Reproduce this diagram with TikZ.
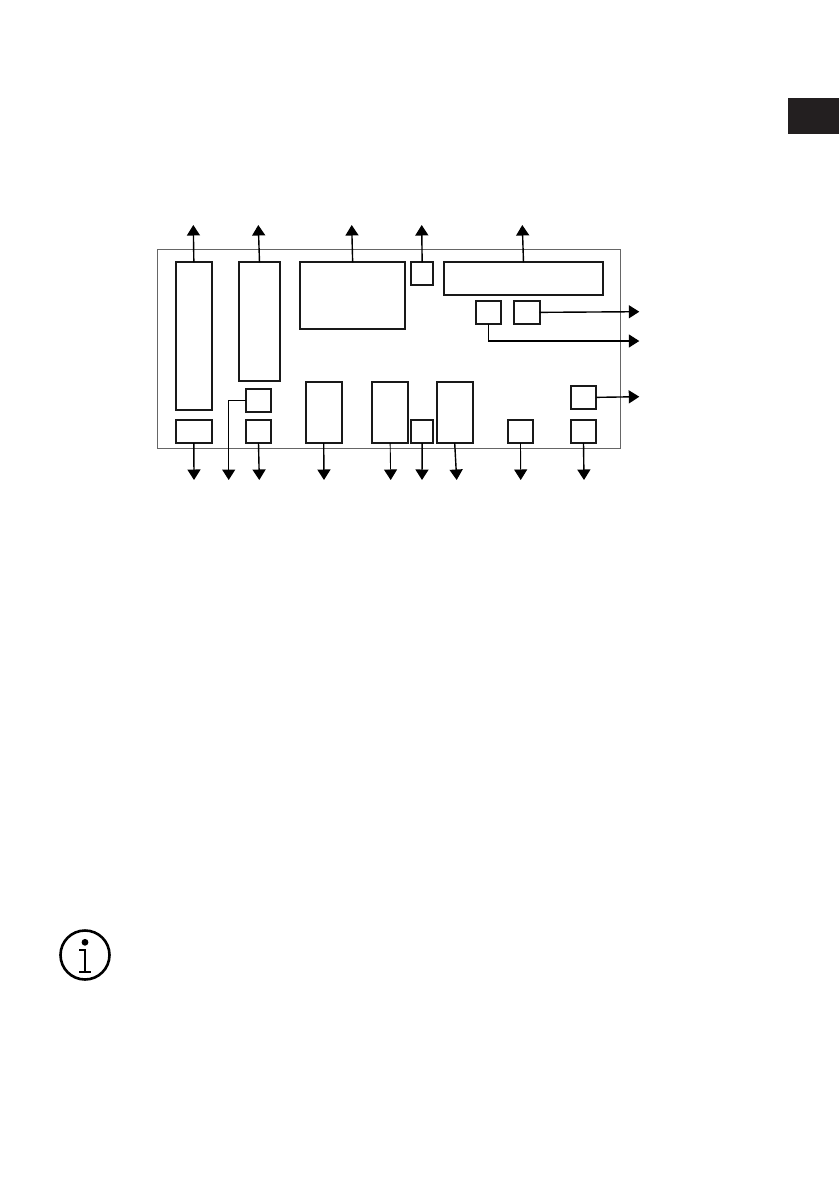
\documentclass[tikz,border=0pt]{standalone}
\usepackage{xcolor}
\usetikzlibrary{arrows.meta}
\usetikzlibrary{positioning}
\definecolor{tabblack}{HTML}{231F20}
\tikzset{
  unit/.style={draw=black!90,line width=1.8pt,inner sep=0pt,outer sep=0pt},
  lead/.style={line width=1.4pt,-{Triangle[width=13pt,length=10.5pt]}},
  thinlead/.style={lead,line width=0.9pt}
}
\begin{document}
\begin{tikzpicture}[x=1pt,y=-1pt]
    \useasboundingbox (0,0) rectangle (839,1191);
    \fill[tabblack] (788,98) rectangle (839,134);
    \draw[black!60,line width=1pt] (157.7,249) rectangle (620,448.3);
    \begin{scope}[every node/.style={unit}]
      \node[minimum width=36.3pt,minimum height=147.4pt] (A) at (193.85,336) {};
      \node[minimum width=41.6pt,minimum height=118.4pt] (B) at (259.5,321.5) {};
      \node[minimum width=104.7pt,minimum height=66.4pt] (C) at (352.65,295.5) {};
      \node[minimum width=22.3pt,minimum height=23pt] (I) at (422.15,273.8) {};
      \node[minimum width=159.6pt,minimum height=32.4pt] (J) at (523.5,278.5) {};
      \node[minimum width=25.3pt,minimum height=23.3pt] (K) at (488.35,312.35) {};
      \node[minimum width=25.7pt,minimum height=23.3pt] (L) at (526.85,312.35) {};
      \node[minimum width=25.6pt,minimum height=23pt] (E) at (258.5,400.2) {};
      \node[minimum width=25.6pt,minimum height=23.3pt] (P) at (583.5,397.35) {};
      \node[minimum width=36.3pt,minimum height=23pt] (D) at (193.85,431.5) {};
      \node[minimum width=25.6pt,minimum height=23pt] (F) at (258.5,431.5) {};
      \node[minimum width=36pt,minimum height=60.7pt] (G) at (323.7,412.65) {};
      \node[minimum width=35.7pt,minimum height=60.7pt] (H) at (390.15,412.65) {};
      \node[minimum width=22.3pt,minimum height=23pt] (M) at (422.15,431.5) {};
      \node[minimum width=36pt,minimum height=60.7pt] (N) at (454.7,412.65) {};
      \node[minimum width=25.6pt,minimum height=23pt] (O) at (520.5,431.5) {};
      \node[minimum width=25.6pt,minimum height=23pt] (Q) at (583.5,431.5) {};
    \end{scope}
    % free ends
    \coordinate (Aup) at (193.3,225);
    \coordinate (Bup) at (258.3,225);
    \coordinate (Cup) at (351.7,225);
    \coordinate (Iup) at (421.7,225);
    \coordinate (Jup) at (522.3,225);
    \coordinate (Lout) at (639.3,311.7);
    \coordinate (Kout) at (639.3,341);
    \coordinate (Pout) at (639.3,396.7);
    \coordinate (Ddown) at (194,480);
    \coordinate (Edown) at (228.7,480);
    \coordinate (Fdown) at (259.3,480);
    \coordinate (Gdown) at (324,480);
    \coordinate (Hdown) at (390.7,480);
    \coordinate (Mdown) at (422,480);
    \coordinate (Ndown) at (456.7,480);
    \coordinate (Odown) at (520.7,480);
    \coordinate (Qdown) at (584,480);
    \draw[lead] (A.north) -- (Aup);
    \draw[lead] (B.north) -- (Bup);
    \draw[lead] (C.north) -- (Cup);
    \draw[lead] (I.north) -- (Iup);
    \draw[lead] (J.north) -- (Jup);
    \draw[lead] (L.east) -- (Lout);
    \draw[lead] (K.south) |- (Kout);
    \draw[lead] (P.east) -- (Pout);
    \draw[lead] (D.south) -- (Ddown);
    \draw[lead] (E.west) -| (Edown);
    \draw[lead] (F.south) -- (Fdown);
    \draw[lead] (G.south) -- (Gdown);
    \draw[thinlead] (H.south) -- (Hdown);
    \draw[lead] (M.south) -- (Mdown);
    \draw[lead] (N.south) -- (Ndown);
    \draw[thinlead] (O.south) -- (Odown);
    \draw[lead] (Q.south) -- (Qdown);
    % info sign
    \draw[line width=2.6pt] (85,955) circle (24.5);
    \fill (85,942.3) circle (3.4);
    \draw[line width=2.2pt] (79,950) -- (85,950) -- (85,971.7);
    \draw[line width=2.2pt] (79,971.7) -- (91,971.7);
  \end{tikzpicture}
\end{document}
